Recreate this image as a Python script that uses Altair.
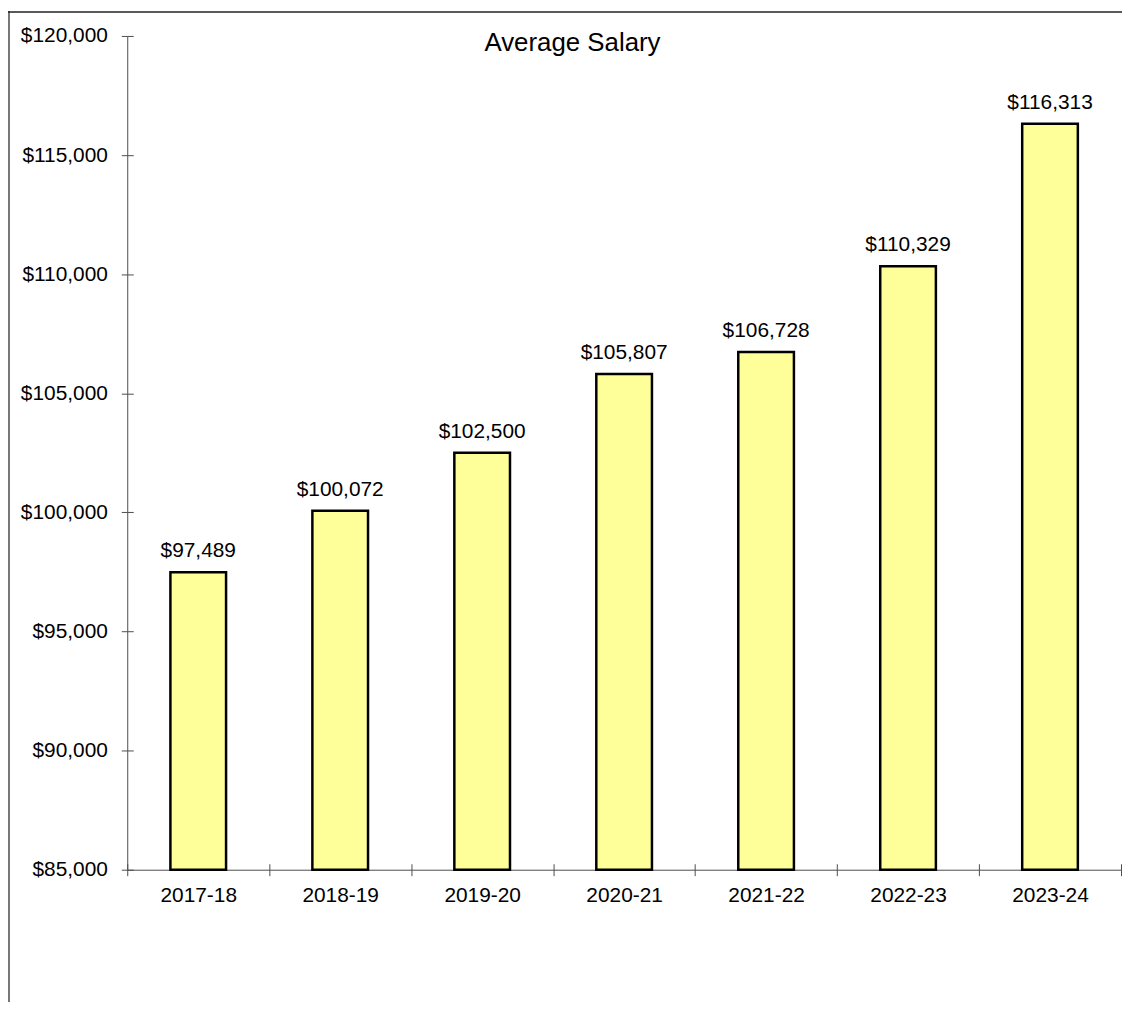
import altair as alt
import pandas as pd

years = ["2017-18", "2018-19", "2019-20", "2020-21", "2021-22", "2022-23", "2023-24"]
salaries = [97489, 100072, 102500, 105807, 106728, 110329, 116313]
y_ticks = [85000, 90000, 95000, 100000, 105000, 110000, 115000, 120000]
title_text = ["Average Salary"]

df = pd.DataFrame({"year": years, "salary": salaries})
df["label"] = ["$" + format(v, ",") for v in salaries]
df["base"] = y_ticks[0]

FONT = "Liberation Sans"
AX = "#4d4d4d"

xscale = alt.Scale(type="band", domain=years, paddingInner=0, paddingOuter=0)
yscale = alt.Scale(domain=[y_ticks[0], y_ticks[-1]], nice=False, zero=False)

x_main = alt.Axis(title=None, orient="bottom", tickBand="extent", tickSize=6, tickColor=AX,
                  domainColor=AX, labelFont=FONT, labelFontSize=21, labelColor="black",
                  labelAngle=0, labelBaseline="alphabetic", labelPadding=26, grid=False)
x_inner = alt.Axis(title=None, orient="bottom", tickBand="extent", tickSize=6, tickColor=AX,
                   domain=False, labels=False, offset=-6, grid=False)
y_main = alt.Axis(title=None, orient="left", values=y_ticks, tickSize=6, tickColor=AX,
                  domainColor=AX, labelFont=FONT, labelFontSize=21, labelColor="black",
                  labelPadding=14, format="$,d", grid=False)
y_inner = alt.Axis(title=None, orient="left", values=y_ticks, tickSize=6, tickColor=AX,
                   domain=False, labels=False, offset=-6, grid=False)

base = alt.Chart(df)

bars = base.mark_bar(fill="#FFFF99", stroke="black", strokeWidth=2.5, size=56).encode(
    x=alt.X("year:N", scale=xscale, sort=years, axis=x_main),
    y=alt.Y("salary:Q", scale=yscale, axis=y_main),
    y2="base:Q",
)

ticks_inner = base.mark_bar(opacity=0, size=56).encode(
    x=alt.X("year:N", scale=xscale, sort=years, axis=x_inner),
    y=alt.Y("salary:Q", scale=yscale, axis=y_inner),
    y2="base:Q",
)

labels = base.mark_text(font=FONT, fontSize=21, color="black", baseline="alphabetic", dy=-15).encode(
    x=alt.X("year:N", scale=xscale, sort=years, axis=None),
    y=alt.Y("salary:Q", scale=yscale, axis=None),
    text="label:N",
)

title = alt.Chart(pd.DataFrame({"t": title_text})).mark_text(
    font=FONT, fontSize=26, color="black", align="center", baseline="alphabetic"
).encode(x=alt.value(448), y=alt.value(15), text="t:N")

frame_df = pd.DataFrame({"k": [0]})
left_line = alt.Chart(frame_df).mark_rule(color="#777777", strokeWidth=2).encode(
    x=alt.value(-119), y=alt.value(-25), y2=alt.value(1000)
)
top_line = alt.Chart(frame_df).mark_rule(color="#222222", strokeWidth=1.5).encode(
    x=alt.value(-120), x2=alt.value(1010), y=alt.value(-24)
)

chart = alt.layer(left_line, top_line, ticks_inner, bars, labels, title).resolve_axis(
    x="independent", y="independent"
).properties(
    width=1000, height=839,
    autosize=alt.AutoSizeParams(type="none"),
    padding={"left": 120, "top": 25, "right": 1, "bottom": 130},
    background="white",
).configure_view(stroke=None)

chart.save("out.html", embed_options={"renderer": "svg", "actions": False})
